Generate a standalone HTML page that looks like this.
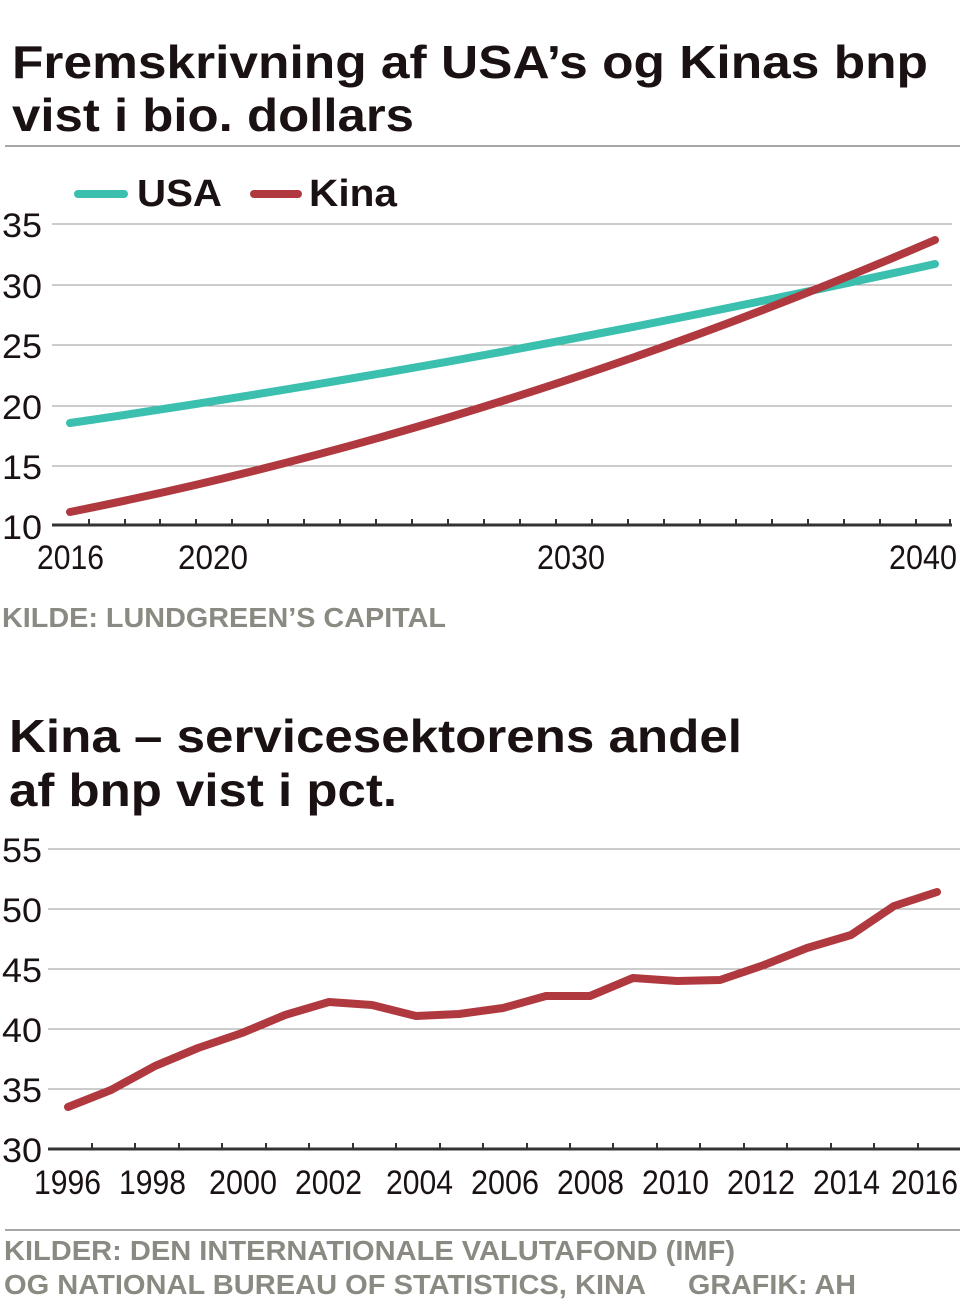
<!DOCTYPE html>
<html><head><meta charset="utf-8"><style>
body{margin:0;background:#fff;}
svg{display:block;}
</style></head><body>
<svg width="960" height="1316" viewBox="0 0 960 1316" xmlns="http://www.w3.org/2000/svg" font-family="Liberation Sans, sans-serif">
<text x="12" y="78" font-size="46" font-weight="bold" fill="#1a1212" textLength="916" lengthAdjust="spacingAndGlyphs">Fremskrivning af USA’s og Kinas bnp</text>
<text x="12" y="131" font-size="46" font-weight="bold" fill="#1a1212" textLength="402" lengthAdjust="spacingAndGlyphs">vist i bio. dollars</text>
<line x1="5" y1="146" x2="960" y2="146" stroke="#888" stroke-width="1.5"/>
<line x1="78" y1="194" x2="124" y2="194" stroke="#3bbfae" stroke-width="8" stroke-linecap="round"/>
<text x="137" y="206" font-size="38" font-weight="bold" fill="#1a1212" textLength="85" lengthAdjust="spacingAndGlyphs">USA</text>
<line x1="254" y1="194" x2="298" y2="194" stroke="#b0393f" stroke-width="8" stroke-linecap="round"/>
<text x="309" y="206" font-size="38" font-weight="bold" fill="#1a1212" textLength="88" lengthAdjust="spacingAndGlyphs">Kina</text>
<g stroke="#999" stroke-width="1">
<line x1="52" y1="224" x2="952" y2="224"/><line x1="52" y1="285" x2="952" y2="285"/><line x1="52" y1="345" x2="952" y2="345"/><line x1="52" y1="406" x2="952" y2="406"/><line x1="52" y1="466" x2="952" y2="466"/>
</g>
<g font-size="34" fill="#1a1212">
<text x="2" y="237" textLength="40" lengthAdjust="spacingAndGlyphs">35</text>
<text x="2" y="298" textLength="40" lengthAdjust="spacingAndGlyphs">30</text>
<text x="2" y="358" textLength="40" lengthAdjust="spacingAndGlyphs">25</text>
<text x="2" y="419" textLength="40" lengthAdjust="spacingAndGlyphs">20</text>
<text x="2" y="479" textLength="40" lengthAdjust="spacingAndGlyphs">15</text>
<text x="2" y="539" textLength="40" lengthAdjust="spacingAndGlyphs">10</text>
<text x="37" y="569" textLength="67" lengthAdjust="spacingAndGlyphs">2016</text>
<text x="178" y="569" textLength="70" lengthAdjust="spacingAndGlyphs">2020</text>
<text x="537" y="569" textLength="68" lengthAdjust="spacingAndGlyphs">2030</text>
<text x="889" y="569" textLength="68" lengthAdjust="spacingAndGlyphs">2040</text>
</g>
<line x1="52" y1="525" x2="952" y2="525" stroke="#333" stroke-width="3"/>
<path d="M89 525v-6M125 525v-6M160 525v-6M196 525v-6M232 525v-6M268 525v-6M304 525v-6M340 525v-6M376 525v-6M412 525v-6M448 525v-6M484 525v-6M520 525v-6M556 525v-6M592 525v-6M628 525v-6M664 525v-6M700 525v-6M736 525v-6M772 525v-6M808 525v-6M844 525v-6M880 525v-6M916 525v-6M950 525v-6" stroke="#333" stroke-width="2"/>
<path d="M70 423 Q502 360 935 264" fill="none" stroke="#3bbfae" stroke-width="8" stroke-linecap="round"/>
<path d="M70 512 Q502 426 935 240" fill="none" stroke="#b0393f" stroke-width="8" stroke-linecap="round"/>
<text x="2" y="627" font-size="28" font-weight="bold" fill="#8a8a82" textLength="444" lengthAdjust="spacingAndGlyphs">KILDE: LUNDGREEN’S CAPITAL</text>

<text x="9" y="752" font-size="46" font-weight="bold" fill="#1a1212" textLength="733" lengthAdjust="spacingAndGlyphs">Kina – servicesektorens andel</text>
<text x="9" y="806" font-size="46" font-weight="bold" fill="#1a1212" textLength="388" lengthAdjust="spacingAndGlyphs">af bnp vist i pct.</text>
<g stroke="#999" stroke-width="1">
<line x1="48" y1="849" x2="960" y2="849"/><line x1="48" y1="909" x2="960" y2="909"/><line x1="48" y1="969" x2="960" y2="969"/><line x1="48" y1="1029" x2="960" y2="1029"/><line x1="48" y1="1089" x2="960" y2="1089"/>
</g>
<g font-size="34" fill="#1a1212">
<text x="2" y="862" textLength="40" lengthAdjust="spacingAndGlyphs">55</text>
<text x="2" y="922" textLength="40" lengthAdjust="spacingAndGlyphs">50</text>
<text x="2" y="982" textLength="40" lengthAdjust="spacingAndGlyphs">45</text>
<text x="2" y="1042" textLength="40" lengthAdjust="spacingAndGlyphs">40</text>
<text x="2" y="1102" textLength="40" lengthAdjust="spacingAndGlyphs">35</text>
<text x="2" y="1162" textLength="40" lengthAdjust="spacingAndGlyphs">30</text>
<text x="34" y="1194" textLength="67" lengthAdjust="spacingAndGlyphs">1996</text>
<text x="119" y="1194" textLength="67" lengthAdjust="spacingAndGlyphs">1998</text>
<text x="209" y="1194" textLength="68" lengthAdjust="spacingAndGlyphs">2000</text>
<text x="295" y="1194" textLength="67" lengthAdjust="spacingAndGlyphs">2002</text>
<text x="386" y="1194" textLength="67" lengthAdjust="spacingAndGlyphs">2004</text>
<text x="471" y="1194" textLength="68" lengthAdjust="spacingAndGlyphs">2006</text>
<text x="557" y="1194" textLength="67" lengthAdjust="spacingAndGlyphs">2008</text>
<text x="642" y="1194" textLength="67" lengthAdjust="spacingAndGlyphs">2010</text>
<text x="727" y="1194" textLength="68" lengthAdjust="spacingAndGlyphs">2012</text>
<text x="813" y="1194" textLength="67" lengthAdjust="spacingAndGlyphs">2014</text>
<text x="891" y="1194" textLength="67" lengthAdjust="spacingAndGlyphs">2016</text>
</g>
<line x1="48" y1="1149" x2="960" y2="1149" stroke="#333" stroke-width="3"/>
<path d="M92 1149v-6M135 1149v-6M179 1149v-6M222 1149v-6M266 1149v-6M309 1149v-6M353 1149v-6M396 1149v-6M440 1149v-6M483 1149v-6M527 1149v-6M570 1149v-6M613 1149v-6M657 1149v-6M700 1149v-6M744 1149v-6M787 1149v-6M831 1149v-6M874 1149v-6M918 1149v-6" stroke="#333" stroke-width="2"/>
<polyline fill="none" stroke="#b0393f" stroke-width="8" stroke-linecap="round" stroke-linejoin="round"
points="68,1107 111,1090 155,1066 198,1048 242,1033 285,1015 329,1002 372,1005 416,1016 459,1014 503,1008 546,996 590,996 633,978 677,981 720,980 764,965 807,948 851,935 894,906 937,892"/>
<line x1="5" y1="1230" x2="960" y2="1230" stroke="#888" stroke-width="1.5"/>
<text x="4" y="1260" font-size="28" font-weight="bold" fill="#8a8a82" textLength="731" lengthAdjust="spacingAndGlyphs">KILDER: DEN INTERNATIONALE VALUTAFOND (IMF)</text>
<text x="4" y="1294" font-size="28" font-weight="bold" fill="#8a8a82" textLength="642" lengthAdjust="spacingAndGlyphs">OG NATIONAL BUREAU OF STATISTICS, KINA</text>
<text x="688" y="1294" font-size="28" font-weight="bold" fill="#8a8a82" textLength="168" lengthAdjust="spacingAndGlyphs">GRAFIK: AH</text>
</svg>
</body></html>
